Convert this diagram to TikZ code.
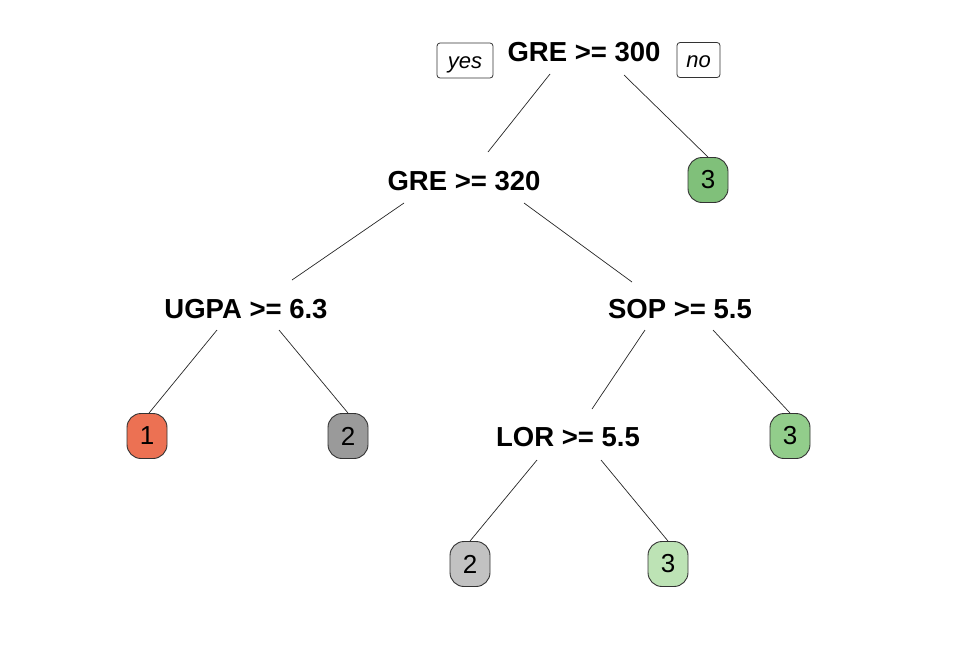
\documentclass[tikz,border=0pt]{standalone}
\usepackage{fontspec}
\setmainfont{Liberation Sans}
\definecolor{leafred}{HTML}{EC7153}
\definecolor{leafgray}{HTML}{9A9A9A}
\definecolor{leaflgray}{HTML}{C2C2C2}
\definecolor{leafgreen}{HTML}{80C07A}
\definecolor{leafmgreen}{HTML}{92CD8B}
\definecolor{leaflgreen}{HTML}{BDE3B5}
\tikzset{
  split/.style={font=\fontsize{27.5}{30}\selectfont\bfseries, inner sep=0pt},
  leaf/.style={draw=black!80, line width=0.9pt, rounded corners=14pt, minimum width=40pt, minimum height=45pt, inner sep=0pt, font=\fontsize{26}{30}\selectfont},
  yn/.style={draw=black!80, line width=0.8pt, rounded corners=3pt, minimum height=35pt, inner sep=0pt, text height=17pt, text depth=2pt, font=\fontsize{22}{24}\selectfont\itshape},
  conn/.style={line width=0.7pt, black!85}
}
\begin{document}
\begin{tikzpicture}[x=1pt,y=-1pt]
\useasboundingbox (0,0) rectangle (972,646);
\node[split] (root) at (584,52) {GRE >= 300};
\node[yn, minimum width=56pt] (yes) at (465,60.5) {yes};
\node[yn, minimum width=43pt] (no) at (698.5,60) {no};
\node[split] (g320) at (464,181) {GRE >= 320};
\node[leaf, fill=leafgreen] (l3a) at (708,180) {3};
\node[split] (ugpa) at (246,309) {UGPA >= 6.3};
\node[split] (sop) at (680,309) {SOP >= 5.5};
\node[leaf, fill=leafred] (l1) at (147,436) {1};
\node[leaf, fill=leafgray] (l2a) at (348,436) {2};
\node[split] (lor) at (568,437) {LOR >= 5.5};
\node[leaf, fill=leafmgreen] (l3b) at (790,436) {3};
\node[leaf, fill=leaflgray] (l2b) at (470,564) {2};
\node[leaf, fill=leaflgreen] (l3c) at (668,564) {3};

\draw[conn] ([shift={(-34,22)}]root.center) -- ([shift={(24,-29)}]g320.center);
\draw[conn] ([shift={(40,23)}]root.center) -- (l3a.north);
\draw[conn] ([shift={(-60,22)}]g320.center) -- ([shift={(46,-29)}]ugpa.center);
\draw[conn] ([shift={(60,22)}]g320.center) -- ([shift={(-48,-27)}]sop.center);
\draw[conn] ([shift={(-29,21)}]ugpa.center) -- ([xshift=2pt]l1.north);
\draw[conn] ([shift={(33,21)}]ugpa.center) -- (l2a.north);
\draw[conn] ([shift={(-35,21)}]sop.center) -- ([shift={(24,-28)}]lor.center);
\draw[conn] ([shift={(33,21)}]sop.center) -- (l3b.north);
\draw[conn] ([shift={(-31,23)}]lor.center) -- (l2b.north);
\draw[conn] ([shift={(33,23)}]lor.center) -- (l3c.north);
\end{tikzpicture}
\end{document}
